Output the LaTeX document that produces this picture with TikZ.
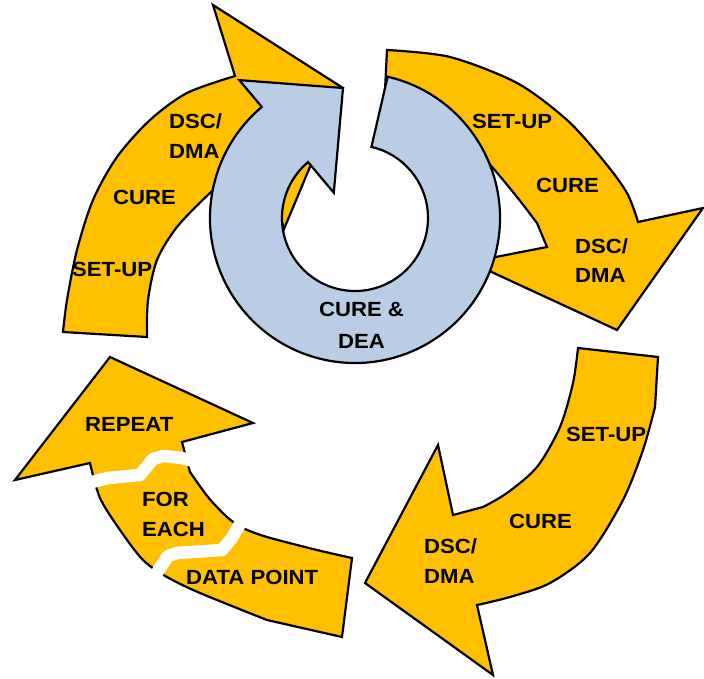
\documentclass[tikz,border=0pt]{standalone}
\usepackage{fontspec}
\setmainfont{Liberation Sans}[FakeStretch=1.08]
\definecolor{gold}{HTML}{FFC000}
\definecolor{ltblue}{HTML}{B9CDE5}
\tikzset{
  yarrow/.style={fill=gold, draw=black, line width=2.2pt, line join=miter},
  barrow/.style={fill=ltblue, draw=black, line width=2.2pt, line join=miter},
  lbl/.style={font=\fontsize{20.5}{24}\selectfont\bfseries, inner sep=0pt, text=black},
  cutband/.style={draw=white, line width=12.5pt, line join=round, line cap=butt}
}
\begin{document}
\begin{tikzpicture}[x=1pt,y=1pt]
\useasboundingbox (0,0) rectangle (704,-679);
% arrow 3 (bottom right)
\draw[yarrow] (578,-348) -- (658,-357)
  -- plot[smooth] coordinates {(655,-407) (643,-450) (623,-500) (590,-553) (550,-583) (510,-597) (477,-605)}
  -- (493,-675) -- (365,-583) -- (438,-445) -- (453,-515)
  -- plot[smooth] coordinates {(483,-507) (507,-493) (537,-467) (560,-427) (573,-383) (578,-348)}
  -- cycle;
% arrow 4 (bottom left)
\draw[yarrow] (352,-558) -- (342,-637)
  -- plot[smooth] coordinates {(267,-620) (200,-593) (167,-577) (143,-560) (120,-530) (100,-498) (90,-463)}
  -- (15,-480) -- (110,-357) -- (253,-423) -- (182,-442)
  -- plot[smooth] coordinates {(190,-472) (208,-497) (227,-517) (243,-528) (267,-537) (317,-550) (352,-558)}
  -- cycle;
\draw[cutband] (84,-484) -- (108,-478) -- (140,-475) -- (153,-459) -- (163,-456) -- (182,-458) -- (200,-463);
\draw[cutband] (152,-581) -- (160,-568) -- (168,-556) -- (177,-553) -- (222,-550) -- (232,-538) -- (240,-524) -- (246,-516);
% arrow 1 (top left)
\draw[yarrow] plot[smooth] coordinates {(63,-332) (67,-300) (77,-250) (93,-200) (117,-157) (150,-120) (187,-93) (235,-76)}
  -- (213,-5) -- (343,-88) -- (284,-229) -- (259,-149)
  -- plot[smooth] coordinates {(243,-165) (210,-193) (177,-227) (157,-260) (148,-300) (147,-337)}
  -- cycle;
% arrow 2 (top right)
\draw[yarrow] plot[smooth] coordinates {(387,-50) (450,-57) (517,-83) (567,-120) (603,-160) (627,-193) (638,-222)}
  -- (703,-208) -- (617,-330) -- (470,-262) -- (547,-247)
  -- plot[smooth] coordinates {(537,-223) (517,-197) (493,-168) (468,-140) (440,-115) (410,-98) (385,-90)}
  -- cycle;
% blue circular arrow
\draw[barrow, shift={(355,-218)}] (77:145) arc[start angle=77, end angle=-230, radius=145]
  -- (130:180) -- (-12,130) -- (130:33) -- (130:73)
  arc[start angle=130, end angle=437, radius=73] -- cycle;
% labels
\node[lbl, anchor=west] (a1l1) at (169,-121) {DSC/};
\node[lbl, anchor=west] (a1l2) at (169,-151) {DMA};
\node[lbl, anchor=west] (a1l3) at (113,-197) {CURE};
\node[lbl, anchor=west] (a1l4) at (72,-269) {SET-UP};
\node[lbl, anchor=west] (a2l1) at (472,-121) {SET-UP};
\node[lbl, anchor=west] (a2l2) at (536,-185) {CURE};
\node[lbl, anchor=west] (a2l3) at (575,-246) {DSC/};
\node[lbl, anchor=west] (a2l4) at (575,-275) {DMA};
\node[lbl, anchor=west] (a3l1) at (566,-434) {SET-UP};
\node[lbl, anchor=west] (a3l2) at (509,-521) {CURE};
\node[lbl, anchor=west] (a3l3) at (424,-546) {DSC/};
\node[lbl, anchor=west] (a3l4) at (424,-576) {DMA};
\node[lbl, anchor=west] (a4l1) at (85,-424) {REPEAT};
\node[lbl, anchor=west] (a4l2) at (142,-499) {FOR};
\node[lbl, anchor=west] (a4l3) at (142,-529) {EACH};
\node[lbl, anchor=west] (a4l4) at (186,-577) {DATA\hspace{0.3em}POINT};
\node[lbl] (b1) at (361.5,-309) {CURE \&};
\node[lbl] (b2) at (361.5,-341) {DEA};
\end{tikzpicture}
\end{document}
